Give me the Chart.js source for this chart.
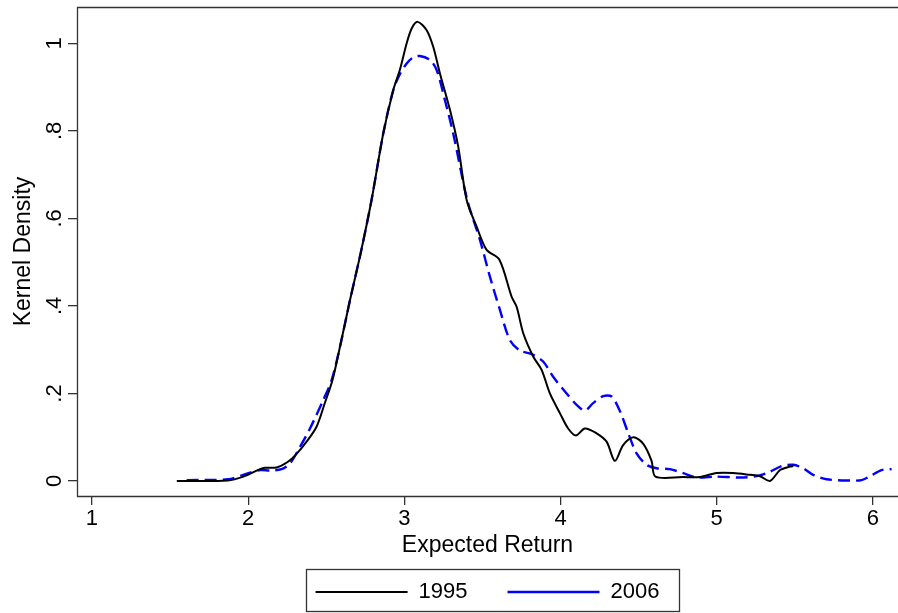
<!DOCTYPE html>
<html><head><meta charset="utf-8">
<script src="https://cdn.jsdelivr.net/npm/chart.js@4.4.1/dist/chart.umd.min.js"></script>
<style>html,body{margin:0;padding:0;background:#fff}canvas{display:block}</style>
</head><body>
<canvas id="c" width="898" height="613"></canvas>
<script>
// ---- data ----
const seriesLabels = ['1995', '2006'];
const xTickValues = [1, 2, 3, 4, 5, 6];
const yTickValues = [0, 0.2, 0.4, 0.6, 0.8, 1];
const yTickLabels = ['0', '.2', '.4', '.6', '.8', '1'];
const xAxisTitle = 'Expected Return';
const yAxisTitle = 'Kernel Density';

const x1995 = [1.543,1.87,1.97,2.076,2.108,2.182,2.255,2.31,2.374,2.438,2.49,2.54,2.59,2.65,2.72,2.79,2.865,2.929,2.972,3.015,3.047,3.085,3.143,3.185,3.228,3.292,3.345,3.399,3.463,3.527,3.608,3.687,3.719,3.762,3.826,3.879,3.932,3.996,4.049,4.099,4.156,4.231,4.295,4.348,4.401,4.466,4.53,4.583,4.608,4.786,4.893,4.999,5.106,5.213,5.277,5.341,5.406,5.47,5.491];
const y1995 = [0,0.001,0.010,0.027,0.030,0.031,0.044,0.062,0.090,0.124,0.177,0.231,0.31,0.41,0.52,0.642,0.794,0.893,0.94,1.0,1.034,1.049,1.030,0.992,0.931,0.848,0.764,0.642,0.581,0.528,0.506,0.421,0.398,0.337,0.284,0.254,0.200,0.155,0.120,0.104,0.120,0.109,0.090,0.046,0.082,0.100,0.085,0.046,0.010,0.009,0.009,0.018,0.018,0.014,0.011,0.0,0.025,0.033,0.034];

const x2006 = [1.606,1.873,1.969,2.076,2.14,2.214,2.268,2.332,2.396,2.481,2.535,2.59,2.65,2.72,2.79,2.865,2.929,2.972,3.015,3.057,3.10,3.164,3.207,3.26,3.313,3.403,3.484,3.548,3.612,3.676,3.74,3.815,3.889,3.953,4.039,4.103,4.156,4.209,4.273,4.327,4.38,4.434,4.487,4.551,4.615,4.70,4.786,4.871,4.999,5.149,5.255,5.341,5.415,5.49,5.554,5.618,5.703,5.853,5.928,5.981,6.056,6.12];
const y2006 = [0.002,0.004,0.014,0.025,0.024,0.027,0.040,0.078,0.120,0.185,0.231,0.31,0.41,0.52,0.642,0.794,0.893,0.930,0.954,0.968,0.971,0.962,0.939,0.870,0.794,0.642,0.551,0.467,0.391,0.322,0.298,0.290,0.273,0.238,0.200,0.174,0.161,0.178,0.194,0.193,0.160,0.109,0.063,0.037,0.029,0.027,0.018,0.008,0.010,0.008,0.011,0.021,0.034,0.037,0.029,0.014,0.004,0.001,0.002,0.011,0.025,0.027];

const toPoints = (xs, ys) => xs.map((x, i) => ({x: x, y: ys[i]}));

const FONT = '"Liberation Sans", Arial, Helvetica, sans-serif';
const FRAME = '#333333';

const bgPlugin = {
  id: 'bg',
  beforeDraw(chart) {
    const ctx = chart.ctx;
    ctx.save(); ctx.fillStyle = '#fff';
    ctx.fillRect(0, 0, chart.width, chart.height); ctx.restore();
  }
};
const framePlugin = {
  id: 'frame',
  afterDraw(chart) {
    const {ctx, chartArea: a} = chart;
    ctx.save();
    ctx.strokeStyle = FRAME; ctx.lineWidth = 1.3;
    ctx.beginPath();
    ctx.moveTo(chart.width, a.top + 0.5);
    ctx.lineTo(a.left + 0.5, a.top + 0.5);
    ctx.lineTo(a.left + 0.5, a.bottom + 0.5);
    ctx.lineTo(chart.width, a.bottom + 0.5);
    ctx.stroke();
    // legend box
    const hb = chart.legend && chart.legend.legendHitBoxes;
    if (hb && hb.length) {
      const first = hb[0], last = hb[hb.length - 1];
      const l = first.left - 10, r = last.left + last.width + 19;
      const t = first.top - 12, b = first.top + first.height + 8;
      ctx.strokeRect(Math.round(l) + 0.5, Math.round(t) + 0.5, Math.round(r - l), Math.round(b - t));
    }
    ctx.restore();
  }
};

new Chart(document.getElementById('c'), {
  type: 'line',
  data: {
    datasets: [
      { label: seriesLabels[0], data: toPoints(x1995, y1995), borderColor: '#000000', backgroundColor: '#000000',
        borderWidth: 2, pointRadius: 0, fill: false, tension: 0.3 },
      { label: seriesLabels[1], data: toPoints(x2006, y2006), borderColor: '#0000ff', backgroundColor: '#0000ff',
        borderWidth: 2.4, borderDash: [12, 6], pointRadius: 0, fill: false, tension: 0.3 }
    ]
  },
  options: {
    responsive: false,
    devicePixelRatio: 1,
    animation: false,
    layout: { padding: { top: 7, left: 0, right: 0, bottom: 0 } },
    plugins: {
      tooltip: { enabled: false },
      legend: {
        position: 'bottom',
        fullSize: false,
        maxHeight: 72,
        labels: {
          usePointStyle: true,
          pointStyle: 'line',
          pointStyleWidth: 92,
          padding: 40,
          color: '#000',
          font: { family: FONT, size: 22 }
        }
      }
    },
    scales: {
      x: {
        type: 'linear',
        min: 0.904, max: 6.161,
        afterBuildTicks: s => { s.ticks = xTickValues.map(v => ({value: v})); },
        afterFit: s => { s.height = 45; s.paddingLeft = 0; s.paddingRight = 0; },
        grid: { display: true, drawOnChartArea: false, drawTicks: true, tickLength: 9, color: FRAME, lineWidth: 1.3 },
        border: { display: false },
        ticks: { color: '#000', padding: 3, maxRotation: 0, autoSkip: false,
                 font: { family: FONT, size: 22, lineHeight: 1 },
                 callback: v => String(v) },
        title: { display: true, text: xAxisTitle, color: '#000',
                 font: { family: FONT, size: 23, lineHeight: 1 },
                 padding: { top: 0, bottom: -16.5 } }
      },
      y: {
        type: 'linear',
        min: -0.0343, max: 1.083,
        afterBuildTicks: s => { s.ticks = yTickValues.map(v => ({value: v})); },
        afterFit: s => { s.width = 77; s.paddingTop = 0; s.paddingBottom = 0; },
        grid: { display: true, drawOnChartArea: false, drawTicks: true, tickLength: 9, color: FRAME, lineWidth: 1.3 },
        border: { display: false },
        ticks: { color: '#000', padding: 4, minRotation: 90, maxRotation: 90, crossAlign: 'center', autoSkip: false,
                 font: { family: FONT, size: 22, lineHeight: 1 },
                 callback: v => { const i = yTickValues.findIndex(t => Math.abs(t - v) < 1e-9); return i >= 0 ? yTickLabels[i] : ''; } },
        title: { display: true, text: yAxisTitle, color: '#000',
                 font: { family: FONT, size: 23, lineHeight: 1 },
                 padding: { top: 12.5, bottom: 0 } }
      }
    }
  },
  plugins: [bgPlugin, framePlugin]
});
</script>
</body></html>
